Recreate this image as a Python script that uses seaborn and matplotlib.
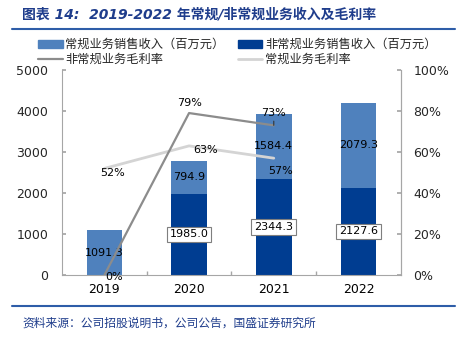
import matplotlib
matplotlib.use("Agg")
import matplotlib.pyplot as plt
import seaborn as sns
import pandas as pd
from matplotlib.patches import Patch
from matplotlib.lines import Line2D

years = ["2019", "2020", "2021", "2022"]
regular_rev = [1091.3, 794.9, 1584.4, 2079.3]
nonregular_rev = [0.0, 1985.0, 2344.3, 2127.6]
margin_years = ["2019", "2020", "2021"]
nonregular_margin = [0.0, 79.0, 73.0]
regular_margin = [52.0, 63.0, 57.0]

sns.set_theme(style="white")
plt.rcParams['font.family'] = ['DejaVu Sans', 'Noto Sans CJK SC']

LIGHT = "#4F81BD"
DARK = "#003D91"
GRAY_DARK = "#8C8C8C"
GRAY_LIGHT = "#D4D4D4"
SPINE = "#A6A6A6"
TITLE_C = "#1F3D8C"

df = pd.DataFrame({"year": years, "regular": regular_rev, "nonregular": nonregular_rev})
df["total"] = df["regular"] + df["nonregular"]

fig = plt.figure(figsize=(4.61, 3.38), dpi=100)
ax = fig.add_axes([0.1345, 0.186, 0.735, 0.607])

sns.barplot(data=df, x="year", y="total", color=LIGHT, width=0.42, ax=ax, saturation=1, linewidth=0)
sns.barplot(data=df, x="year", y="nonregular", color=DARK, width=0.42, ax=ax, saturation=1, linewidth=0)

ax.set_ylim(0, 5000)
ax.set_xlim(-0.5, 3.5)
ax.set_yticks([0, 1000, 2000, 3000, 4000, 5000])
ax.set_xlabel("")
ax.set_ylabel("")
ax.set_xticks([0, 1, 2, 3])
ax.set_xticklabels(years)
ax.set_xticks([0.5, 1.5, 2.5], minor=True)
ax.tick_params(axis="x", which="major", length=0, labelsize=9, pad=6, colors="black")
ax.tick_params(axis="x", which="minor", direction="in", length=3, color=SPINE, bottom=True)
ax.tick_params(axis="y", direction="in", length=3, color=SPINE, labelsize=9, pad=10, left=True)
ax.spines["top"].set_visible(False)
for s in ["left", "bottom", "right"]:
    ax.spines[s].set_color(SPINE)
    ax.spines[s].set_linewidth(0.8)

# bar labels
for i, (r, n) in enumerate(zip(regular_rev, nonregular_rev)):
    ax.text(i, n + r / 2, f"{r:.1f}", ha="center", va="center", fontsize=8, color="black")
    if n > 0:
        ax.text(i, n / 2, f"{n:.1f}", ha="center", va="center", fontsize=8, color="black",
                bbox=dict(boxstyle="square,pad=0.25", fc="white", ec="#7F7F7F", lw=0.8))

ax2 = ax.twinx()
mdf = pd.DataFrame({"x": [0, 1, 2], "non": nonregular_margin, "reg": regular_margin})
sns.lineplot(data=mdf, x="x", y="reg", color=GRAY_LIGHT, lw=2.0, ax=ax2)
sns.lineplot(data=mdf, x="x", y="non", color=GRAY_DARK, lw=1.6, ax=ax2)
ax2.set_ylim(0, 100)
ax2.set_xlim(-0.5, 3.5)
ax2.set_yticks([0, 20, 40, 60, 80, 100])
ax2.set_yticklabels([f"{v}%" for v in [0, 20, 40, 60, 80, 100]])
ax2.set_ylabel("")
ax2.tick_params(axis="y", direction="in", length=3, color=SPINE, labelsize=9, pad=9, right=True)
for s in ["top", "left", "bottom"]:
    ax2.spines[s].set_visible(False)
ax2.spines["right"].set_color(SPINE)
ax2.spines["right"].set_linewidth(0.8)

def lab(x, y, txt, dx, dy, leader=False):
    ax2.annotate(txt, (x, y), xytext=(dx, dy), textcoords="offset points",
                 ha="center", va="center", fontsize=8, color="black",
                 arrowprops=dict(arrowstyle="-", color="#333333", lw=0.8, shrinkA=4, shrinkB=0) if leader else None)

lab(0, nonregular_margin[0], "0%", 7, -1)
lab(1, nonregular_margin[1], "79%", 0, 7)
lab(2, nonregular_margin[2], "73%", 0, 9, leader=True)
lab(0, regular_margin[0], "52%", 6, -3)
lab(1, regular_margin[1], "63%", 12, -3)
lab(2, regular_margin[2], "57%", 5, -9)

handles = [
    Patch(color=LIGHT, label="常规业务销售收入（百万元）"),
    Line2D([0], [0], color=GRAY_DARK, lw=1.6, label="非常规业务毛利率"),
    Patch(color=DARK, label="非常规业务销售收入（百万元）"),
    Line2D([0], [0], color=GRAY_LIGHT, lw=2.0, label="常规业务毛利率"),
]
fig.legend(handles=handles, ncol=2, loc="upper left", bbox_to_anchor=(0.07, 0.905),
           frameon=False, fontsize=8.8, handlelength=2.0, handleheight=0.7,
           columnspacing=1.1, labelspacing=0.15, handletextpad=0.2, borderpad=0)

fig.text(0.048, 0.958, "图表 14:  2019-2022 年常规/非常规业务收入及毛利率", fontsize=10,
         color=TITLE_C, fontweight="bold", style="italic", ha="left", va="center")
fig.add_artist(Line2D([0.026, 0.987], [0.914, 0.914], color="#2E5DA8", lw=1.5, transform=fig.transFigure))
fig.add_artist(Line2D([0.026, 0.987], [0.095, 0.095], color="#2E5DA8", lw=1.5, transform=fig.transFigure))
fig.text(0.048, 0.045, "资料来源：公司招股说明书，公司公告，国盛证券研究所", fontsize=8.5,
         color=TITLE_C, style="italic", ha="left", va="center")

fig.savefig("out.png", dpi=100)
